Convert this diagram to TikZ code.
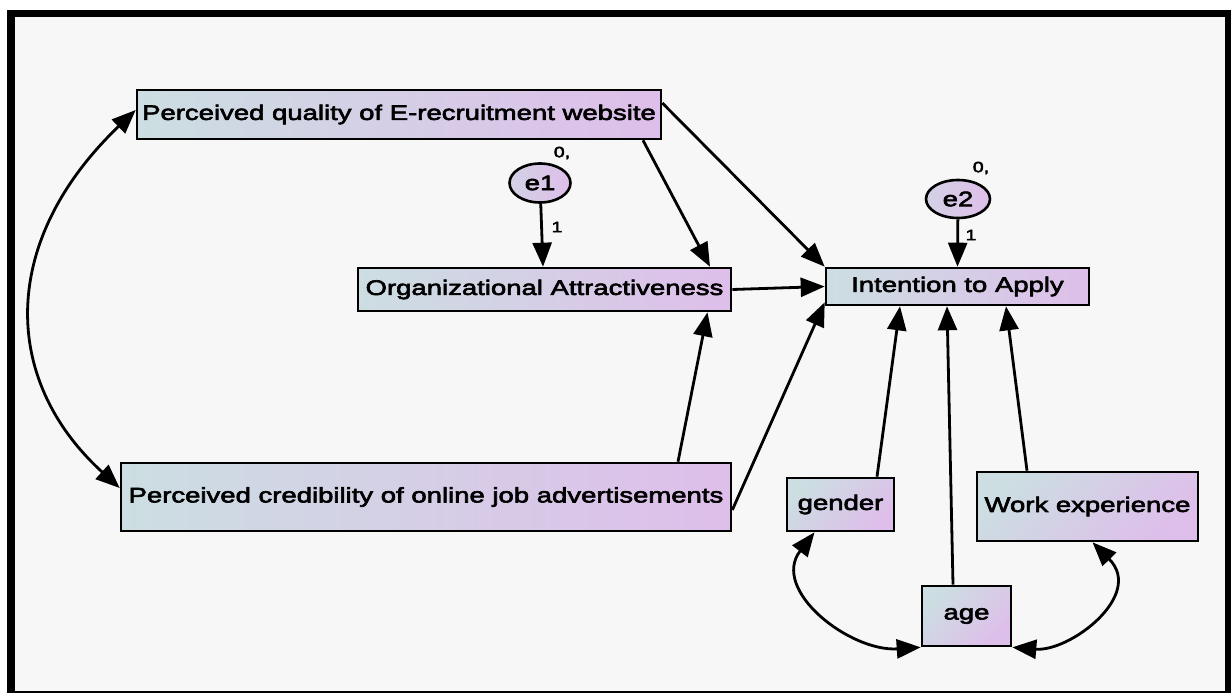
\documentclass[tikz,border=0pt]{standalone}
\usepackage{fontspec}
\setmainfont{Liberation Sans}[FakeStretch=1.31,FakeBold=3]
\usetikzlibrary{arrows.meta,shapes.geometric}
\definecolor{cl}{RGB}{204,222,226}
\definecolor{cr}{RGB}{222,190,234}
\definecolor{bg}{RGB}{247,247,247}
\begin{document}
\begin{tikzpicture}[x=1pt,y=-1pt,
  box/.style={draw=black, line width=2.6pt, left color=cl, right color=cr,
    inner sep=0pt, font=\fontsize{21}{24}\selectfont},
  dbox/.style={box, shading angle=45},
  err/.style={ellipse, draw=black, line width=2.6pt, left color=cl!60!cr, right color=cr,
    inner sep=0pt, font=\fontsize{21}{24}\selectfont},
  lab/.style={font=\fontsize{15}{18}\selectfont, inner sep=0pt},
  arr/.style={line width=2.8pt, -{Triangle[length=24pt,width=19pt]}},
  dbl/.style={line width=2.8pt, {Triangle[length=24pt,width=19pt]}-{Triangle[length=24pt,width=19pt]}}]
\useasboundingbox (0,0) rectangle (1231,693);
\fill[white] (0,0) rectangle (1231,693);
\fill[black] (7,10) rectangle (1231,693);
\fill[bg] (15,17) rectangle (1225,691);

\node[box, minimum width=524pt, minimum height=49pt] (PQ) at (399,114.5) {Perceived quality of E-recruitment website};
\node[box, minimum width=373pt, minimum height=43pt] (OA) at (544.5,289.5) {Organizational Attractiveness};
\node[box, minimum width=610pt, minimum height=68pt] (PC) at (426,497) {Perceived credibility of online job advertisements};
\node[box, minimum width=263pt, minimum height=37pt] (IA) at (957.5,286.5) {Intention to Apply};
\node[dbox, minimum width=107pt, minimum height=53pt] (G) at (840.5,504.5) {gender};
\node[dbox, minimum width=221pt, minimum height=69pt] (WE) at (1087.5,506.5) {Work experience};
\node[dbox, minimum width=89pt, minimum height=60pt] (AG) at (966.5,616) {age};
\node[err, minimum width=61pt, minimum height=39pt] (E1) at (540,183) {e1};
\node[err, minimum width=64pt, minimum height=38pt] (E2) at (958,199) {e2};

\node[lab] (E1v) at (562,153) {0,};
\node[lab] (E1w) at (557,227) {1};
\node[lab] (E2v) at (981,168) {0,};
\node[lab] (E2w) at (971,235) {1};

\draw[arr] (E1) -- ([xshift=-1.5pt]OA.north);
\draw[arr] (E2) -- (IA.north);
\draw[arr] ([xshift=244pt]PQ.south) -- ([xshift=165.5pt]OA.north);
\draw[arr] ([yshift=11.5pt]PQ.east) -- (IA.north west);
\draw[arr] (OA.east) -- (IA.west);
\draw[arr] ([xshift=252pt]PC.north) -- ([xshift=163pt]OA.south);
\draw[arr] ([yshift=-13pt]PC.east) -- ([yshift=4pt]IA.south west);
\draw[arr] ([xshift=36.5pt]G.north) -- ([xshift=-57.5pt]IA.south);
\draw[arr] ([xshift=-13.5pt]AG.north) -- ([xshift=-10.5pt]IA.south);
\draw[arr] ([xshift=-60.5pt]WE.north) -- ([xshift=48.5pt]IA.south);

\draw[dbl] ([yshift=4.5pt]PQ.west) .. controls (0,240) and (0,379) .. ([yshift=9pt]PC.west);
\draw[dbl] ([xshift=-26pt]G.south) .. controls (770,590) and (850,652) .. (AG.south west);
\draw[dbl] ([xshift=5pt]WE.south) .. controls (1145,595) and (1070,652) .. (AG.south east);
\end{tikzpicture}
\end{document}
